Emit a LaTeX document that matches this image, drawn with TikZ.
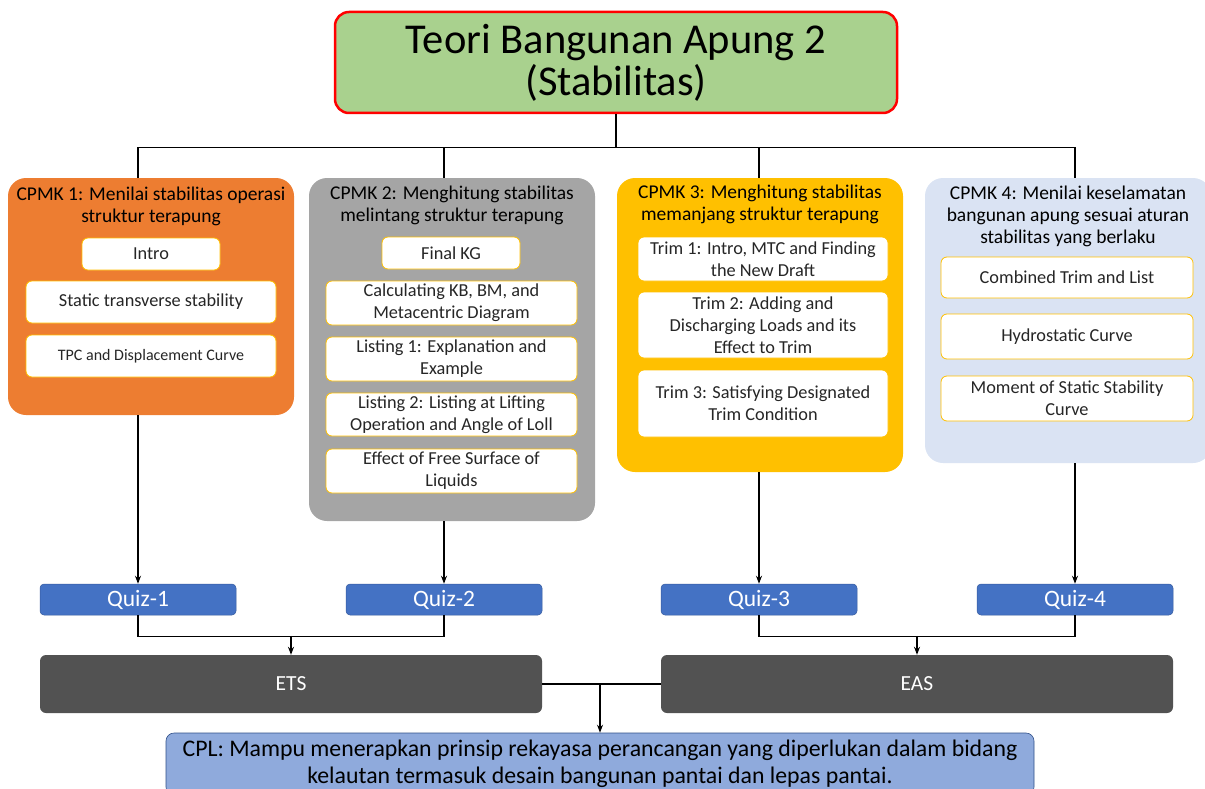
\documentclass[tikz,border=0pt]{standalone}
\usepackage{fontspec}
\setmainfont{Carlito}
\usetikzlibrary{arrows.meta, calc, positioning}
\usepackage{xcolor}

\definecolor{titlegreen}{HTML}{A9D18E}
\definecolor{cpmkorange}{HTML}{ED7D31}
\definecolor{cpmkgray}{HTML}{A5A5A5}
\definecolor{cpmkyellow}{HTML}{FFC000}
\definecolor{cpmkblue}{HTML}{DAE3F3}
\definecolor{quizblue}{HTML}{4472C4}
\definecolor{examgray}{HTML}{525252}
\definecolor{cplblue}{HTML}{8FAADC}

\tikzset{
  titlebox/.style={rectangle, rounded corners=14pt, draw=red, line width=2.5pt, fill=titlegreen,
    minimum width=562pt, minimum height=101pt, align=center, font=\fontsize{42.5}{42}\selectfont},
  cpmkbox/.style={rectangle, rounded corners=18pt, minimum width=286pt, inner sep=0pt},
  cpmktitle/.style={anchor=north, align=center, inner sep=0pt, font=\fontsize{19.5}{22}\selectfont},
  topicbox/.style={rectangle, rounded corners=6pt, draw=cpmkyellow, fill=white, line width=0.8pt,
    align=center, inner sep=0pt, text=black!85, font=\fontsize{18.3}{22}\selectfont},
  quizbox/.style={rectangle, rounded corners=4pt, fill=quizblue, draw=quizblue!80!black, line width=0.5pt,
    minimum width=196pt, minimum height=31pt, text=white, font=\fontsize{23.5}{24}\selectfont},
  exambox/.style={rectangle, rounded corners=6pt, fill=examgray, minimum height=58pt,
    text=white, font=\fontsize{21.5}{22}\selectfont},
  link/.style={line width=1.2pt},
  arrowlink/.style={link, -{Stealth[length=8pt, width=6pt]}}
}

\begin{document}
\begin{tikzpicture}[x=1pt, y=-1pt]
  \useasboundingbox (0,0) rectangle (1205,789);

  % course title
  \node[titlebox] (title) at (616,62.5) {Teori Bangunan Apung 2\\(Stabilitas)};

  % CPMK columns
  \node[cpmkbox, fill=cpmkorange, minimum height=237pt] (c1) at (151,296.5) {};
  \node[cpmkbox, fill=cpmkgray, minimum height=343pt] (c2) at (452,349.5) {};
  \node[cpmkbox, fill=cpmkyellow, minimum height=294pt] (c3) at (760,325) {};
  \node[cpmkbox, fill=cpmkblue, minimum height=285pt] (c4) at (1068,320.5) {};

  \node[cpmktitle] (t1) at (151,187) {CPMK 1: Menilai stabilitas operasi\\struktur terapung};
  \node[cpmktitle] (t2) at (452,186) {CPMK 2: Menghitung stabilitas\\melintang struktur terapung};
  \node[cpmktitle] (t3) at (760,185) {CPMK 3: Menghitung stabilitas\\memanjang struktur terapung};
  \node[cpmktitle] (t4) at (1068,186) {CPMK 4: Menilai keselamatan\\bangunan apung sesuai aturan\\stabilitas yang berlaku};

  % topics
  \node[topicbox, minimum width=138pt, minimum height=32pt] (intro) at (151,254) {Intro};
  \node[topicbox, minimum width=250pt, minimum height=42pt] (static) at (151,302) {Static transverse stability};
  \node[topicbox, minimum width=250pt, minimum height=42pt, font=\fontsize{16}{20}\selectfont] (tpc) at (151,356) {TPC and Displacement Curve};

  \node[topicbox, minimum width=138pt, minimum height=32pt] (finalkg) at (451,253) {Final KG};
  \node[topicbox, minimum width=251pt, minimum height=44pt] (calc) at (451.5,303) {Calculating KB, BM, and\\Metacentric Diagram};
  \node[topicbox, minimum width=251pt, minimum height=44pt] (listA) at (451.5,359) {Listing 1: Explanation and\\Example};
  \node[topicbox, minimum width=251pt, minimum height=43pt] (listB) at (451.5,414.5) {Listing 2: Listing at Lifting\\Operation and Angle of Loll};
  \node[topicbox, minimum width=251pt, minimum height=44pt] (surface) at (451.5,471) {Effect of Free Surface of\\Liquids};

  \node[topicbox, minimum width=250pt, minimum height=44pt] (trimA) at (763,259) {Trim 1: Intro, MTC and Finding\\the New Draft};
  \node[topicbox, minimum width=250pt, minimum height=66pt] (trimB) at (763,325) {Trim 2: Adding and\\Discharging Loads and its\\Effect to Trim};
  \node[topicbox, minimum width=250pt, minimum height=67pt] (trimC) at (763,403.5) {Trim 3: Satisfying Designated\\Trim Condition};

  \node[topicbox, minimum width=252pt, minimum height=41pt] (combined) at (1067,277.5) {Combined Trim and List};
  \node[topicbox, minimum width=252pt, minimum height=45pt] (hydro) at (1067,336.5) {Hydrostatic Curve};
  \node[topicbox, minimum width=252pt, minimum height=45pt] (moment) at (1067,398.5) {Moment of Static Stability\\Curve};

  % quizzes and exams
  \node[quizbox] (q1) at (138,599.5) {Quiz-1};
  \node[quizbox] (q2) at (444,599.5) {Quiz-2};
  \node[quizbox] (q3) at (759,599.5) {Quiz-3};
  \node[quizbox] (q4) at (1075,599.5) {Quiz-4};

  \node[exambox, minimum width=502pt] (ets) at (291,684) {ETS};
  \node[exambox, minimum width=512pt] (eas) at (917,684) {EAS};

  \node[rectangle, rounded corners=8pt, fill=cplblue, draw=quizblue!70!black, line width=0.6pt,
    minimum width=868pt, minimum height=62pt, align=center,
    font=\fontsize{23.8}{27}\selectfont] (cpl) at (600,764)
    {CPL: Mampu menerapkan prinsip rekayasa perancangan yang diperlukan dalam bidang\\kelautan termasuk desain bangunan pantai dan lepas pantai.};

  % tree from title
  \draw[link, line width=2pt] (title.south) -- ++(0,33);
  \draw[link] (title.south) ++(0,33) -| (c1.north -| q1);
  \draw[link] (title.south) ++(0,33) -| (c2.north -| q2);
  \draw[link] (title.south) ++(0,33) -| (c3.north -| q3);
  \draw[link] (title.south) ++(0,33) -| (c4.north -| q4);

  % columns to quizzes
  \draw[arrowlink] (c1.south -| q1) -- (q1.north);
  \draw[arrowlink] (c2.south -| q2) -- (q2.north);
  \draw[arrowlink] (c3.south -| q3) -- (q3.north);
  \draw[arrowlink] (c4.south -| q4) -- (q4.north);

  % quizzes to exams
  \draw[link] (q1.south) -- ++(0,21) -| (q2.south);
  \draw[link] (q3.south) -- ++(0,21) -| (q4.south);
  \draw[arrowlink] (ets.north) ++(0,-19) -- (ets.north);
  \draw[arrowlink] (eas.north) ++(0,-19) -- (eas.north);

  % exams to CPL
  \draw[link] (ets.east) -- (eas.west);
  \draw[arrowlink] (ets.east -| cpl.north) -- (cpl.north);
\end{tikzpicture}
\end{document}
